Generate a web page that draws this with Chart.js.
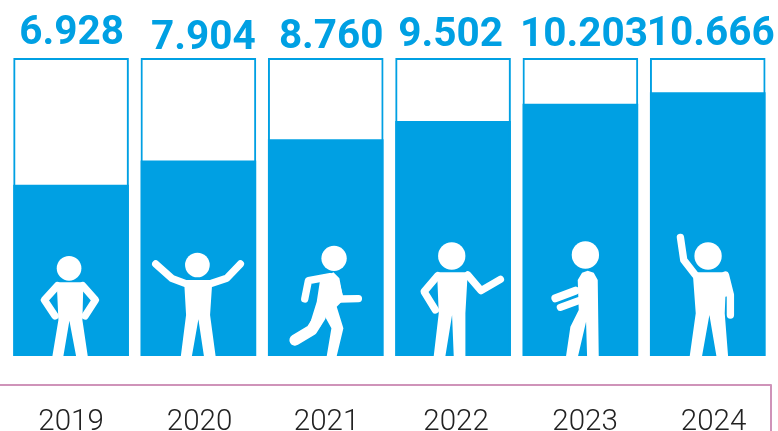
<!DOCTYPE html>
<html><head><meta charset="utf-8">
<script src="https://cdn.jsdelivr.net/npm/chart.js@4"></script>
<style>html,body{margin:0;padding:0;background:#fff;overflow:hidden}canvas{display:block}</style>
</head><body><canvas id="c" width="778" height="431"></canvas>
<script>
const categories = ['2019','2020','2021','2022','2023','2024'];
const values = [6928,7904,8760,9502,10203,10666];
const capacity = [12050,12050,12050,12050,12050,12050];

const BLUE='#00A0E3';
// Pictograms, in units of 1/3 px relative to bar centre and baseline
const figures=[
 {cx:213,head:[207,115,37],
  body:[[170,157],[250,157],[247,270],[263,378],[228,378],[208,272],[190,378],[157,378],[175,270]],
  limbs:[[22,[172,167],[133,210],[165,258]],[22,[248,167],[286,210],[255,258]]]},
 {cx:595,head:[592,105,37],
  body:[[552,150],[637,150],[630,255],[647,381],[612,381],[595,268],[575,381],[542,381],[558,255]],
  limbs:[[22,[467,102],[515,145],[555,160]],[22,[721,102],[680,145],[635,160]]]},
 {cx:977,head:[1002,85,38],
  body:[[960,150],[1000,127],[1018,145],[1030,210],[1010,230],[1030,295],[1010,378],[980,378],[994,295],[975,260],[960,290],[930,280],[950,215]],
  limbs:[[22,[990,140],[925,152],[914,207]],[22,[1005,150],[1020,207],[1075,206]],
         [34,[960,260],[935,300],[885,330]]]},
 {cx:188,head:[184,78,41],
  body:[[140,127],[232,127],[225,250],[225,378],[190,378],[185,255],[165,378],[130,378],[145,250]],
  limbs:[[22,[142,137],[101,185],[135,240]],[22,[232,135],[272,182],[330,148]]]},
 {cx:570,head:[585,75,41],
  body:[[562,150],[575,128],[592,122],[610,128],[622,150],[625,378],[590,378],[587,275],[563,378],[527,378],[540,290],[565,240]],
  limbs:[[24,[555,182],[495,205]],[22,[565,212],[510,232]]]},
 {cx:952,head:[953,78,41],
  body:[[918,127],[1000,127],[1030,195],[1005,200],[1003,250],[1013,378],[978,378],[957,255],[935,378],[898,378],[916,250],[908,140]],
  limbs:[[22,[870,22],[880,90],[915,135]],[22,[1005,135],[1020,195],[1020,255]]]}
];
const labelLift=[14,9,10,12,12,13];
const labelShift=[0.5,5,5.5,-2.5,3.5,3];
const tickShift=[0,1.2,0.8,3,4.7,5.8];

const overlay={
 id:'overlay',
 afterDatasetsDraw(chart){
  const ctx=chart.ctx, x=chart.scales.x, y=chart.scales.y, base=y.getPixelForValue(0);
  ctx.save();
  figures.forEach((f,i)=>{
    const cx=x.getPixelForValue(i);
    const X=p=>cx+(p-f.cx)/3, Y=p=>base+(p-378)/3;
    ctx.fillStyle='#fff';ctx.strokeStyle='#fff';ctx.lineCap='round';ctx.lineJoin='round';
    ctx.beginPath();ctx.arc(X(f.head[0]),Y(f.head[1]),f.head[2]/3,0,Math.PI*2);ctx.fill();
    ctx.beginPath();f.body.forEach((p,k)=>k?ctx.lineTo(X(p[0]),Y(p[1])):ctx.moveTo(X(p[0]),Y(p[1])));ctx.closePath();ctx.fill();
    f.limbs.forEach(l=>{
      ctx.lineWidth=l[0]/3;ctx.beginPath();
      l.slice(1).forEach((p,k)=>k?ctx.lineTo(X(p[0]),Y(p[1])):ctx.moveTo(X(p[0]),Y(p[1])));ctx.stroke();
    });
  });
  ctx.fillStyle=BLUE;ctx.font='bold 40.5px Roboto';ctx.textAlign='center';ctx.textBaseline='alphabetic';
  values.forEach((v,i)=>{
    ctx.fillText(v.toLocaleString('de-DE'),x.getPixelForValue(i)+labelShift[i],y.getPixelForValue(capacity[i])-labelLift[i]);
  });
  ctx.strokeStyle='#CF93B9';ctx.lineWidth=2;ctx.beginPath();
  ctx.moveTo(0,385);ctx.lineTo(771,385);ctx.lineTo(771,431);ctx.stroke();
  ctx.restore();
 }
};

new Chart(document.getElementById('c'),{
 type:'bar',
 data:{labels:categories,datasets:[
  {label:'Valore',data:values,backgroundColor:BLUE,borderWidth:0,order:2},
  {label:'Capienza',data:capacity,backgroundColor:'rgba(0,0,0,0)',borderColor:BLUE,borderWidth:2,order:1}
 ]},
 plugins:[overlay],
 options:{
  responsive:false,animation:false,
  layout:{padding:{left:7.4,right:6.6,top:58,bottom:0}},
  plugins:{legend:{display:false},tooltip:{enabled:false}},
  datasets:{bar:{grouped:false,barPercentage:0.911,categoryPercentage:1}},
  scales:{
   x:{grid:{display:false,drawTicks:true,tickLength:49},border:{display:false},
      ticks:{color:'#222',font:{family:'Roboto',weight:'300',size:29.5},padding:0,maxRotation:0},
      afterFit(s){
        s.height=75;
        if(!s._tickShifted){
          const orig=s.getPixelForTick;
          s.getPixelForTick=i=>orig.call(s,i)+tickShift[i];
          s._tickShifted=true;
        }
      }},
   y:{display:false,min:0,max:12050}
  }
 }
});
</script></body></html>
